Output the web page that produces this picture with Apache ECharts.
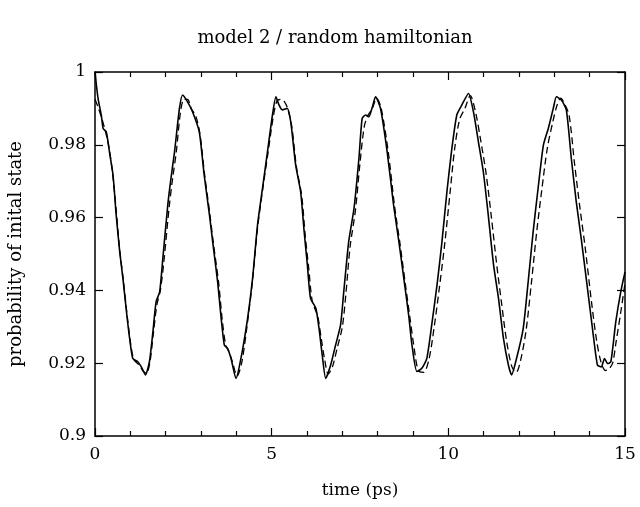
<!DOCTYPE html>
<html>
<head>
<meta charset="utf-8">
<script src="https://cdn.jsdelivr.net/npm/echarts@6/dist/echarts.min.js"></script>
<style>
  html, body { margin: 0; padding: 0; background: #fff; }
  #chart { width: 640px; height: 507px; }
</style>
</head>
<body>
<div id="chart"></div>
<script>
// solid curve: time (ps), probability
var solidT = [0, 0.085, 0.18, 0.23, 0.32, 0.41, 0.51, 0.60, 0.70, 0.79, 0.89, 0.98, 1.07, 1.21, 1.31, 1.43,
  1.54, 1.64, 1.73, 1.83, 1.92, 2.06, 2.15, 2.25, 2.39, 2.48, 2.62, 2.76, 2.95, 3.09, 3.24, 3.33, 3.47,
  3.57, 3.66, 3.75, 3.85, 3.99, 4.13, 4.32, 4.46, 4.60, 4.74, 4.88, 5.02, 5.12, 5.21, 5.30, 5.44, 5.54,
  5.68, 5.82, 5.92, 6.01, 6.10, 6.25, 6.34, 6.43, 6.53, 6.67, 6.81, 6.95, 7.04, 7.18, 7.33, 7.47, 7.56,
  7.66, 7.75, 7.85, 7.94, 8.08, 8.27, 8.45, 8.60, 8.74, 8.88, 8.97, 9.11, 9.25, 9.39, 9.53, 9.68, 9.82,
  9.96, 10.10, 10.24, 10.38, 10.57, 10.71, 10.85, 10.99, 11.13, 11.28, 11.42, 11.56, 11.70, 11.79, 11.93,
  12.12, 12.26, 12.40, 12.54, 12.69, 12.83, 12.97, 13.06, 13.20, 13.34, 13.48, 13.62, 13.76, 13.95, 14.09,
  14.22, 14.33, 14.42, 14.51, 14.60, 14.74, 14.88, 15.0];
var solidP = [1.0, 0.9928, 0.988, 0.9845, 0.9835, 0.978, 0.9717, 0.9607, 0.9506, 0.9433, 0.9342, 0.9268, 0.9213, 0.9204, 0.919, 0.9168,
  0.9204, 0.9287, 0.9369, 0.9396, 0.9488, 0.9635, 0.9708, 0.978, 0.990, 0.9937, 0.9918, 0.9891, 0.9836, 0.9717, 0.9607, 0.9534, 0.9424,
  0.9324, 0.925, 0.9241, 0.9213, 0.9158, 0.9213, 0.9324, 0.9433, 0.958, 0.968, 0.978, 0.988, 0.9932, 0.9909, 0.9896, 0.990, 0.9863,
  0.9744, 0.9671, 0.9561, 0.947, 0.9378, 0.9351, 0.9296, 0.9223, 0.9158, 0.9195, 0.925, 0.9305, 0.9396, 0.9534, 0.9625, 0.9763, 0.9872,
  0.9882, 0.9877, 0.9904, 0.9932, 0.990, 0.978, 0.9635, 0.9534, 0.9433, 0.9330, 0.925, 0.9177, 0.9186, 0.9213, 0.9305, 0.9415, 0.9534,
  0.9671, 0.979, 0.9882, 0.9909, 0.9941, 0.9891, 0.9809, 0.9726, 0.9607, 0.947, 0.9378, 0.9268, 0.9195, 0.9168, 0.9213,
  0.9296, 0.9424, 0.9561, 0.968, 0.9799, 0.9845, 0.990, 0.9932, 0.9923, 0.9896, 0.9763, 0.9644, 0.9543, 0.9396, 0.9287,
  0.9195, 0.919, 0.9213, 0.9199, 0.9204, 0.9314, 0.9396, 0.945];

// dashed curve
var dashT = [0, 0.1, 0.2, 0.3, 0.4, 0.5, 0.6, 0.7, 0.8, 0.9, 1.0, 1.1, 1.25, 1.35, 1.45, 1.55, 1.65, 1.75, 1.85, 1.95,
  2.1, 2.2, 2.3, 2.42, 2.52, 2.62, 2.72, 2.85, 2.97, 3.1, 3.25, 3.35, 3.5, 3.6, 3.7, 3.8, 3.9, 4.02, 4.15, 4.3,
  4.45, 4.6, 4.75, 4.9, 5.05, 5.15, 5.25, 5.35, 5.45, 5.57, 5.7, 5.85, 5.95, 6.05, 6.15, 6.3, 6.4, 6.5, 6.6, 6.72,
  6.85, 7.0, 7.1, 7.22, 7.37, 7.5, 7.62, 7.72, 7.85, 7.97, 8.1, 8.3, 8.48, 8.63, 8.78, 8.92, 9.02, 9.15, 9.3, 9.45,
  9.6, 9.75, 9.9, 10.05, 10.18, 10.32, 10.47, 10.62, 10.77, 10.92, 11.07, 11.22, 11.37, 11.5, 11.65, 11.8, 11.92, 12.05,
  12.2, 12.35, 12.5, 12.65, 12.8, 12.95, 13.08, 13.18, 13.3, 13.42, 13.57, 13.72, 13.87, 14.05, 14.2, 14.33, 14.45, 14.55,
  14.65, 14.75, 14.88, 15.0];
var dashP = [0.9925, 0.990, 0.987, 0.9835, 0.979, 0.972, 0.962, 0.951, 0.943, 0.934, 0.926, 0.921, 0.9195, 0.918, 0.9172, 0.920, 0.928, 0.936, 0.940, 0.948,
  0.963, 0.971, 0.978, 0.989, 0.9925, 0.9925, 0.990, 0.988, 0.983, 0.972, 0.961, 0.953, 0.942, 0.932, 0.925, 0.923, 0.920, 0.9165, 0.920, 0.930,
  0.942, 0.957, 0.968, 0.978, 0.988, 0.992, 0.9925, 0.992, 0.990, 0.985, 0.974, 0.966, 0.955, 0.946, 0.937, 0.933, 0.927, 0.921, 0.917, 0.919,
  0.924, 0.930, 0.939, 0.952, 0.962, 0.975, 0.985, 0.988, 0.990, 0.9928, 0.990, 0.978, 0.963, 0.953, 0.942, 0.932, 0.925, 0.918, 0.9175, 0.921,
  0.930, 0.941, 0.953, 0.967, 0.979, 0.987, 0.990, 0.9935, 0.989, 0.981, 0.972, 0.960, 0.947, 0.937, 0.926, 0.919, 0.9175, 0.921,
  0.929, 0.942, 0.956, 0.968, 0.979, 0.986, 0.991, 0.9928, 0.991, 0.988, 0.975, 0.963, 0.952, 0.937, 0.926, 0.920, 0.918, 0.9185,
  0.920, 0.926, 0.934, 0.942];

var xTicks = [0, 5, 10, 15];
var yTicks = [0.9, 0.92, 0.94, 0.96, 0.98, 1];

function pairs(t, p) {
  var out = [];
  for (var i = 0; i < t.length; i++) out.push([t[i], p[i]]);
  return out;
}

var font = 'DejaVu Serif';
var chart = echarts.init(document.getElementById('chart'));

// ticks point into the plot (negative length flips them inward)
var xBase = {
  type: 'value', min: 0, max: 15, interval: 5,
  axisLine: { show: true, onZero: false, lineStyle: { color: '#000', width: 1.5 } },
  axisTick: { show: true, inside: false, length: -8, customValues: xTicks, lineStyle: { color: '#000', width: 1.2 } },
  minorTick: { show: true, splitNumber: 5, length: -5, lineStyle: { color: '#000', width: 1.2 } },
  splitLine: { show: false }
};
var yBase = {
  type: 'value', min: 0.9, max: 1, interval: 0.02,
  axisLine: { show: true, onZero: false, lineStyle: { color: '#000', width: 1.5 } },
  axisTick: { show: true, inside: false, length: -8, customValues: yTicks, lineStyle: { color: '#000', width: 1.2 } },
  splitLine: { show: false }
};

var option = {
  backgroundColor: '#fff',
  animation: false,
  title: {
    text: 'model 2 / random hamiltonian',
    left: 330, top: 24, textAlign: 'center',
    textStyle: { fontFamily: font, fontSize: 18, fontWeight: 'normal', color: '#000' }
  },
  grid: { left: 95, right: 15, top: 72, bottom: 71, outerBoundsMode: 'none', containLabel: false },
  xAxis: [
    Object.assign({}, xBase, {
      position: 'bottom',
      name: 'time (ps)', nameLocation: 'middle', nameGap: 46,
      nameTextStyle: { fontFamily: font, fontSize: 17, color: '#000' },
      axisLabel: { show: true, margin: 10, fontFamily: font, fontSize: 17, color: '#000',
        customValues: xTicks }
    }),
    Object.assign({}, xBase, { position: 'top', axisLabel: { show: false } })
  ],
  yAxis: [
    Object.assign({}, yBase, {
      position: 'left',
      name: 'probability of inital state', nameLocation: 'middle', nameGap: 70,
      nameTextStyle: { fontFamily: font, fontSize: 18, color: '#000' },
      axisLabel: { show: true, margin: 9, fontFamily: font, fontSize: 17, color: '#000',
        customValues: yTicks,
        formatter: function (v) { return String(+v.toFixed(2)); } }
    }),
    Object.assign({}, yBase, { position: 'right', axisLabel: { show: false } })
  ],
  series: [
    {
      name: 'solid', type: 'line', data: pairs(solidT, solidP),
      showSymbol: false, smooth: 0.2,
      lineStyle: { color: '#000', width: 1.6 }
    },
    {
      name: 'dashed', type: 'line', data: pairs(dashT, dashP),
      showSymbol: false, smooth: 0.3,
      lineStyle: { color: '#000', width: 1.3, type: [7, 4] }
    }
  ]
};
chart.setOption(option);
</script>
</body>
</html>
